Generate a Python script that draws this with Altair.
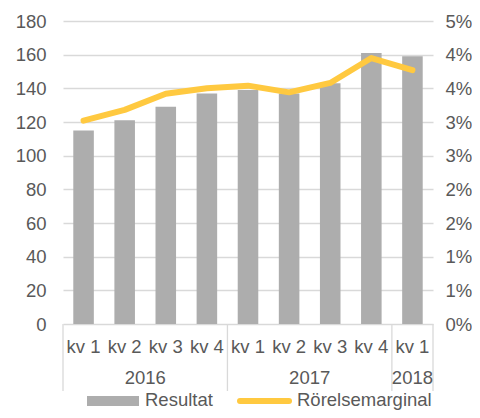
import altair as alt
import pandas as pd

quarters = ["kv 1", "kv 2", "kv 3", "kv 4", "kv 1", "kv 2", "kv 3", "kv 4", "kv 1"]
years = ["2016", "2016", "2016", "2016", "2017", "2017", "2017", "2017", "2018"]
resultat = [115, 121, 129, 137, 139, 137, 143, 161, 159]
marginal_pct = [3.02, 3.18, 3.42, 3.50, 3.54, 3.44, 3.58, 3.95, 3.77]
series_names = ["Resultat", "Rörelsemarginal"]
left_ticks = [0, 20, 40, 60, 80, 100, 120, 140, 160, 180]
right_ticks = [0, 0.005, 0.01, 0.015, 0.02, 0.025, 0.03, 0.035, 0.04, 0.045]

FONT = "Liberation Sans"
FS = 18.5
TXT = "#595959"
GRID = "#D9D9D9"
BAR = "#ADADAD"
LINE = "#FFC940"
W, H = 370, 303

df = pd.DataFrame({
    "idx": list(range(len(quarters))),
    "quarter": quarters,
    "year": years,
    "resultat": resultat,
    "marginal": [v / 100 for v in marginal_pct],
})

# year groups: boundaries and centers derived from the years list
groups = []
start = 0
for i in range(1, len(years) + 1):
    if i == len(years) or years[i] != years[start]:
        groups.append({"year": years[start], "start": start, "end": i})
        start = i
gdf = pd.DataFrame(groups)
gdf["center"] = (gdf["start"] + gdf["end"]) / 2
bounds = sorted(set(gdf["start"].tolist() + gdf["end"].tolist()))
bdf = pd.DataFrame({"b": bounds})

xscale = alt.Scale(domain=[0, len(quarters)], nice=False, zero=False, padding=0)

base = alt.Chart(df)

bars = base.transform_calculate(
    x0="datum.idx + 0.25", x1="datum.idx + 0.75"
).mark_bar(color=BAR).encode(
    x=alt.X("x0:Q", scale=xscale, axis=None),
    x2="x1:Q",
    y=alt.Y("resultat:Q", scale=alt.Scale(domain=[0, 180], nice=False),
            axis=alt.Axis(values=left_ticks, orient="left", grid=True, gridColor=GRID,
                          gridWidth=1.3, domain=False, ticks=False, labelPadding=17,
                          labelFont=FONT, labelFontSize=FS, labelColor=TXT, title=None)),
    y2=alt.datum(0),
)

line = base.transform_calculate(xc="datum.idx + 0.5").mark_line(
    color=LINE, strokeWidth=6, strokeCap="round", strokeJoin="round"
).encode(
    x=alt.X("xc:Q", scale=xscale, axis=None),
    y=alt.Y("marginal:Q", scale=alt.Scale(domain=[0, 0.045], nice=False),
            axis=alt.Axis(values=right_ticks, format=".0%", orient="right", grid=False,
                          domain=False, ticks=False, labelPadding=12,
                          labelFont=FONT, labelFontSize=FS, labelColor=TXT, title=None)),
)

qlabels = base.transform_calculate(xc="datum.idx + 0.5").mark_text(
    font=FONT, fontSize=FS, color=TXT, baseline="middle", align="center"
).encode(x=alt.X("xc:Q", scale=xscale, axis=None), y=alt.value(H + 23), text="quarter:N")

ylabels = alt.Chart(gdf).mark_text(
    font=FONT, fontSize=FS, color=TXT, baseline="middle", align="center"
).encode(x=alt.X("center:Q", scale=xscale, axis=None), y=alt.value(H + 54), text="year:N")

seps = alt.Chart(bdf).mark_rule(color=GRID, strokeWidth=1.3).encode(
    x=alt.X("b:Q", scale=xscale, axis=None), y=alt.value(H), y2=alt.value(H + 67)
)

leg = pd.DataFrame({"name": series_names})
leg_rect = alt.Chart(leg).transform_filter(alt.datum.name == series_names[0]).mark_rect(
    color=BAR).encode(x=alt.value(24), x2=alt.value(76), y=alt.value(375), y2=alt.value(385))
leg_t1 = alt.Chart(leg).transform_filter(alt.datum.name == series_names[0]).mark_text(
    font=FONT, fontSize=FS, color=TXT, align="left", baseline="alphabetic").encode(
    x=alt.value(82), y=alt.value(385), text="name:N")
leg_line = alt.Chart(leg).transform_filter(alt.datum.name == series_names[1]).mark_rule(
    color=LINE, strokeWidth=6, strokeCap="round").encode(
    x=alt.value(177), x2=alt.value(226), y=alt.value(380))
leg_t2 = alt.Chart(leg).transform_filter(alt.datum.name == series_names[1]).mark_text(
    font=FONT, fontSize=FS, color=TXT, align="left", baseline="alphabetic").encode(
    x=alt.value(234), y=alt.value(385), text="name:N")

chart = alt.layer(
    bars, line, seps, qlabels, ylabels, leg_rect, leg_t1, leg_line, leg_t2
).resolve_scale(y="independent").properties(
    width=W, height=H,
    autosize=alt.AutoSizeParams(type="none"),
    padding={"left": 55, "top": 13, "right": 39, "bottom": 86},
).configure_view(stroke=None)

chart.save("out.html", embed_options={"renderer": "svg", "actions": False})
